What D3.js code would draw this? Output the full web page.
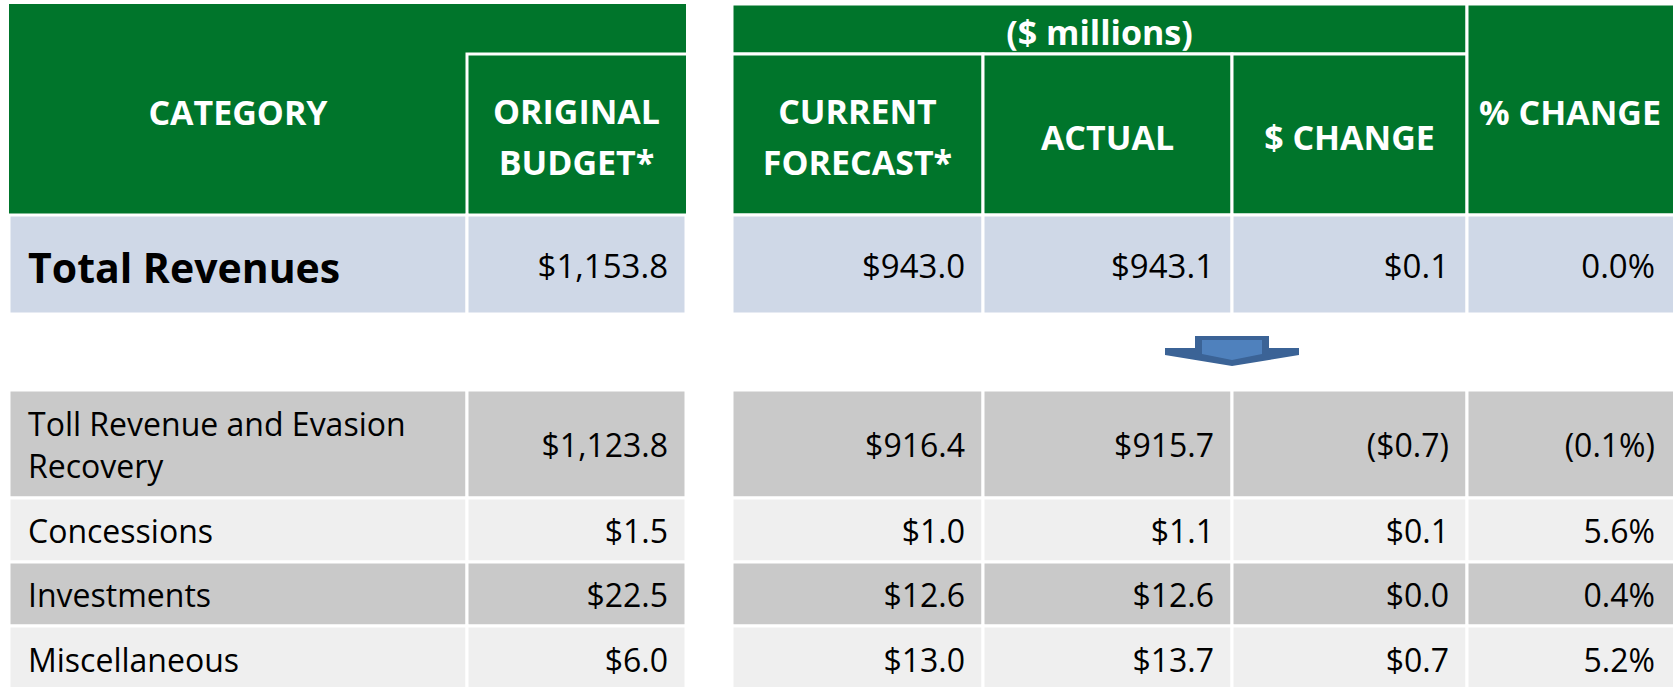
<!DOCTYPE html>
<html lang="en">
<head>
<meta charset="UTF-8">
<title>Revenues</title>
<style>
  body { margin: 0; background: #fff; }
  svg text { font-family: "Open Sans", sans-serif; }
</style>
</head>
<body>
<script src="https://d3js.org/d3.v7.min.js"></script>
<script>
    // ---- data ----
    var categories = ["Toll Revenue and Evasion Recovery", "Concessions", "Investments", "Miscellaneous"];
    var originalBudget = [1123.8, 1.5, 22.5, 6.0];
    var currentForecast = [916.4, 1.0, 12.6, 13.0];
    var actual = [915.7, 1.1, 12.6, 13.7];
    var dollarChange = [-0.7, 0.1, 0.0, 0.7];
    var pctChange = [-0.1, 5.6, 0.4, 5.2];

    var totalLabel = "Total Revenues";
    var totalValues = [1153.8, 943.0, 943.1, 0.1, 0.0];

    var headers = [["CATEGORY"], ["ORIGINAL", "BUDGET*"], ["CURRENT", "FORECAST*"], ["ACTUAL"], ["$ CHANGE"], ["% CHANGE"]];
    var unitsLabel = "($ millions)";

    // ---- layout ----
    var width = 1673, height = 687;
    var cols = ["cat", "budget", "forecast", "actual", "change", "pct"];
    var colLeft = d3.scaleOrdinal().domain(cols).range([9, 467, 732, 983, 1232, 1467]);
    var colRight = d3.scaleOrdinal().domain(cols).range([467, 686, 983, 1232, 1467, 1676]);

    var rowTop = d3.scaleOrdinal().domain(categories).range([390, 498, 562, 626]);
    var rowBottom = d3.scaleOrdinal().domain(categories).range([498, 562, 626, 692]);

    var green = "#00752B", totalFill = "#CFD8E7";
    var rowFill = ["#C9C9C9", "#EFEFEF"];

    var fmt = d3.format(",.1f");
    function money(v) { return v < 0 ? "($" + fmt(-v) + ")" : "$" + fmt(v); }
    function pct(v) { return v < 0 ? "(" + fmt(-v) + "%)" : fmt(v) + "%"; }

    var svg = d3.select("body")
        .append("svg")
        .attr("width", width)
        .attr("height", height);

    function cell(x0, y0, x1, y1, fill, stroke) {
        svg.append("rect")
            .attr("x", x0).attr("y", y0)
            .attr("width", x1 - x0).attr("height", y1 - y0)
            .attr("fill", fill)
            .attr("stroke", stroke ? "#fff" : "none")
            .attr("stroke-width", 3);
    }

    var headTop = 4, headMid = 54, headBottom = 215, totalBottom = 314;

    // ---- header, left block ----
    cell(colLeft("cat"), headTop, colRight("budget"), headBottom, green, false);
    svg.append("path")
        .attr("d", "M" + colRight("budget") + "," + headMid + "H" + colLeft("budget") + "V" + headBottom)
        .attr("stroke", "#fff").attr("stroke-width", 3).attr("fill", "none");

    // ---- header, right block ----
    cell(colLeft("forecast"), headTop, colRight("change"), headMid, green, true);
    ["forecast", "actual", "change"].forEach(function(c) {
        cell(colLeft(c), headMid, colRight(c), headBottom, green, true);
    });
    cell(colLeft("pct"), headTop, colRight("pct"), headBottom, green, true);

    function headerText(c, lines, y0, y1) {
        var cx = (colLeft(c) + Math.min(colRight(c), width)) / 2;
        var cy = (y0 + y1) / 2 + 15;
        var t = svg.append("text")
            .attr("text-anchor", "middle")
            .attr("fill", "#fff")
            .attr("font-weight", "bold")
            .attr("font-size", 34);
        lines.forEach(function(l, i) {
            t.append("tspan")
                .attr("x", cx)
                .attr("y", cy + (i - (lines.length - 1) / 2) * 51)
                .text(l);
        });
    }
    cols.forEach(function(c, i) {
        var twoRow = (c === "cat" || c === "pct");
        headerText(c, headers[i], twoRow ? headTop : headMid, headBottom);
    });
    svg.append("text")
        .attr("x", (colLeft("forecast") + colRight("change")) / 2)
        .attr("y", (headTop + headMid) / 2 + 16)
        .attr("text-anchor", "middle")
        .attr("fill", "#fff")
        .attr("font-weight", "bold")
        .attr("font-size", 34)
        .text(unitsLabel);

    // ---- total row ----
    cols.forEach(function(c) {
        cell(colLeft(c), headBottom, colRight(c), totalBottom, totalFill, true);
    });
    var totalMid = (headBottom + totalBottom) / 2;
    svg.append("text")
        .attr("x", colLeft("cat") + 19)
        .attr("y", totalMid + 18)
        .attr("font-weight", "bold")
        .attr("font-size", 41)
        .attr("fill", "#000")
        .text(totalLabel);
    cols.slice(1).forEach(function(c, i) {
        svg.append("text")
            .attr("x", Math.min(colRight(c), width) - 18)
            .attr("y", totalMid + 13.5)
            .attr("text-anchor", "end")
            .attr("font-size", 33)
            .attr("fill", "#000")
            .text(c === "pct" ? pct(totalValues[i]) : money(totalValues[i]));
    });

    // ---- arrow ----
    var ax = colLeft("change"), ay = 336;
    svg.append("path")
        .attr("d", d3.line()([[ax - 37, ay], [ax + 37, ay], [ax + 37, ay + 12], [ax + 67, ay + 12],
            [ax + 67, ay + 19], [ax, ay + 30], [ax - 67, ay + 19], [ax - 67, ay + 12], [ax - 37, ay + 12]]) + "Z")
        .attr("fill", "#3B6396");
    svg.append("path")
        .attr("d", d3.line()([[ax - 30, ay + 4], [ax + 30, ay + 4], [ax + 30, ay + 18], [ax, ay + 24],
            [ax - 30, ay + 18]]) + "Z")
        .attr("fill", "#4F81BD");

    // ---- detail rows ----
    var valueCols = [originalBudget, currentForecast, actual, dollarChange, pctChange];
    categories.forEach(function(cat, r) {
        var y0 = rowTop(cat), y1 = rowBottom(cat), mid = (y0 + y1) / 2;
        cols.forEach(function(c) {
            cell(colLeft(c), y0, colRight(c), y1, rowFill[r % 2], true);
        });

        // label, wrapped to cell width
        var label = svg.append("text")
            .attr("font-size", 32)
            .attr("fill", "#000");
        var maxW = colRight("cat") - colLeft("cat") - 40;
        var words = cat.split(" "), lines = [], line = [];
        var probe = label.append("tspan");
        words.forEach(function(w) {
            line.push(w);
            probe.text(line.join(" "));
            if (probe.node().getComputedTextLength() > maxW && line.length > 1) {
                line.pop();
                lines.push(line.join(" "));
                line = [w];
            }
        });
        lines.push(line.join(" "));
        probe.remove();
        lines.forEach(function(l, i) {
            label.append("tspan")
                .attr("x", colLeft("cat") + 19)
                .attr("y", mid + 13 + (i - (lines.length - 1) / 2) * 42)
                .text(l);
        });

        cols.slice(1).forEach(function(c, i) {
            var v = valueCols[i][r];
            svg.append("text")
                .attr("x", Math.min(colRight(c), width) - 18)
                .attr("y", mid + 13)
                .attr("text-anchor", "end")
                .attr("font-size", 32)
                .attr("fill", "#000")
                .text(c === "pct" ? pct(v) : money(v));
        });
    });
</script>
</body>
</html>
